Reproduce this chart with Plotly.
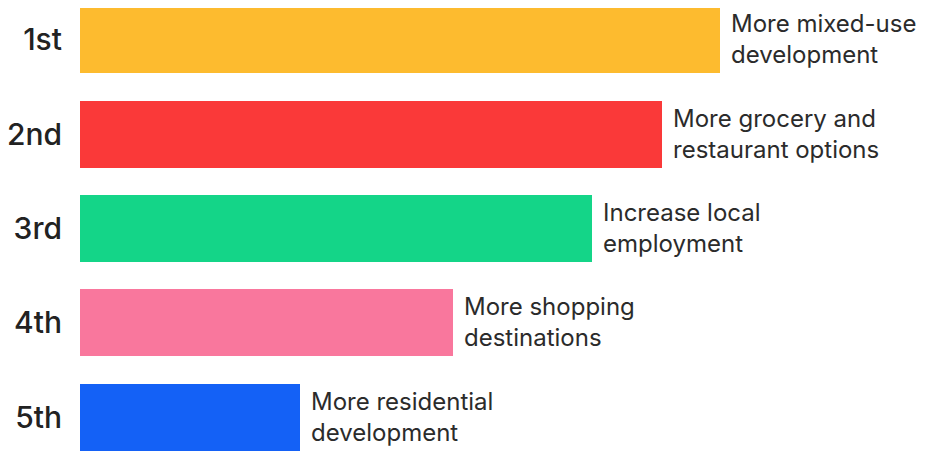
import plotly.graph_objects as go

ranks = ["1st", "2nd", "3rd", "4th", "5th"]
values = [640, 582, 512, 373, 220]
labels_line1 = ["More mixed-use", "More grocery and", "Increase local", "More shopping", "More residential"]
labels_line2 = ["development", "restaurant options", "employment", "destinations", "development"]
colors = ["#FDBB2F", "#FA3939", "#14D588", "#F9779D", "#1461F6"]

ypos = list(range(len(ranks)))

fig = go.Figure()
fig.add_trace(go.Bar(
    x=values, y=ypos, orientation="h",
    marker=dict(color=colors, line=dict(width=0)),
    width=0.71, hoverinfo="skip",
))

font_lbl = dict(family="Inter, Noto Sans, sans-serif", size=24, color="#2b2b2b")
for i in ypos:
    fig.add_annotation(x=values[i], y=i, text=labels_line1[i], showarrow=False,
                       xanchor="left", yanchor="middle", xshift=9, yshift=16, font=font_lbl)
    fig.add_annotation(x=values[i], y=i, text=labels_line2[i], showarrow=False,
                       xanchor="left", yanchor="middle", xshift=9, yshift=-15, font=font_lbl)

fig.update_layout(
    width=927, height=443,
    margin=dict(l=72, r=0, t=0, b=0),
    paper_bgcolor="white", plot_bgcolor="white",
    showlegend=False,
    bargap=0,
)
fig.update_xaxes(range=[0, 855], visible=False, fixedrange=True)
fig.update_yaxes(
    range=[4.358, -0.339], tickmode="array", tickvals=ypos, ticktext=ranks,
    showgrid=False, zeroline=False, showline=False,
    ticks="outside", ticklen=11, tickcolor="rgba(0,0,0,0)",
    tickfont=dict(family="Inter, Noto Sans, sans-serif", size=30, color="#222222", weight=500),
    fixedrange=True,
)

fig.write_html("out.html")
